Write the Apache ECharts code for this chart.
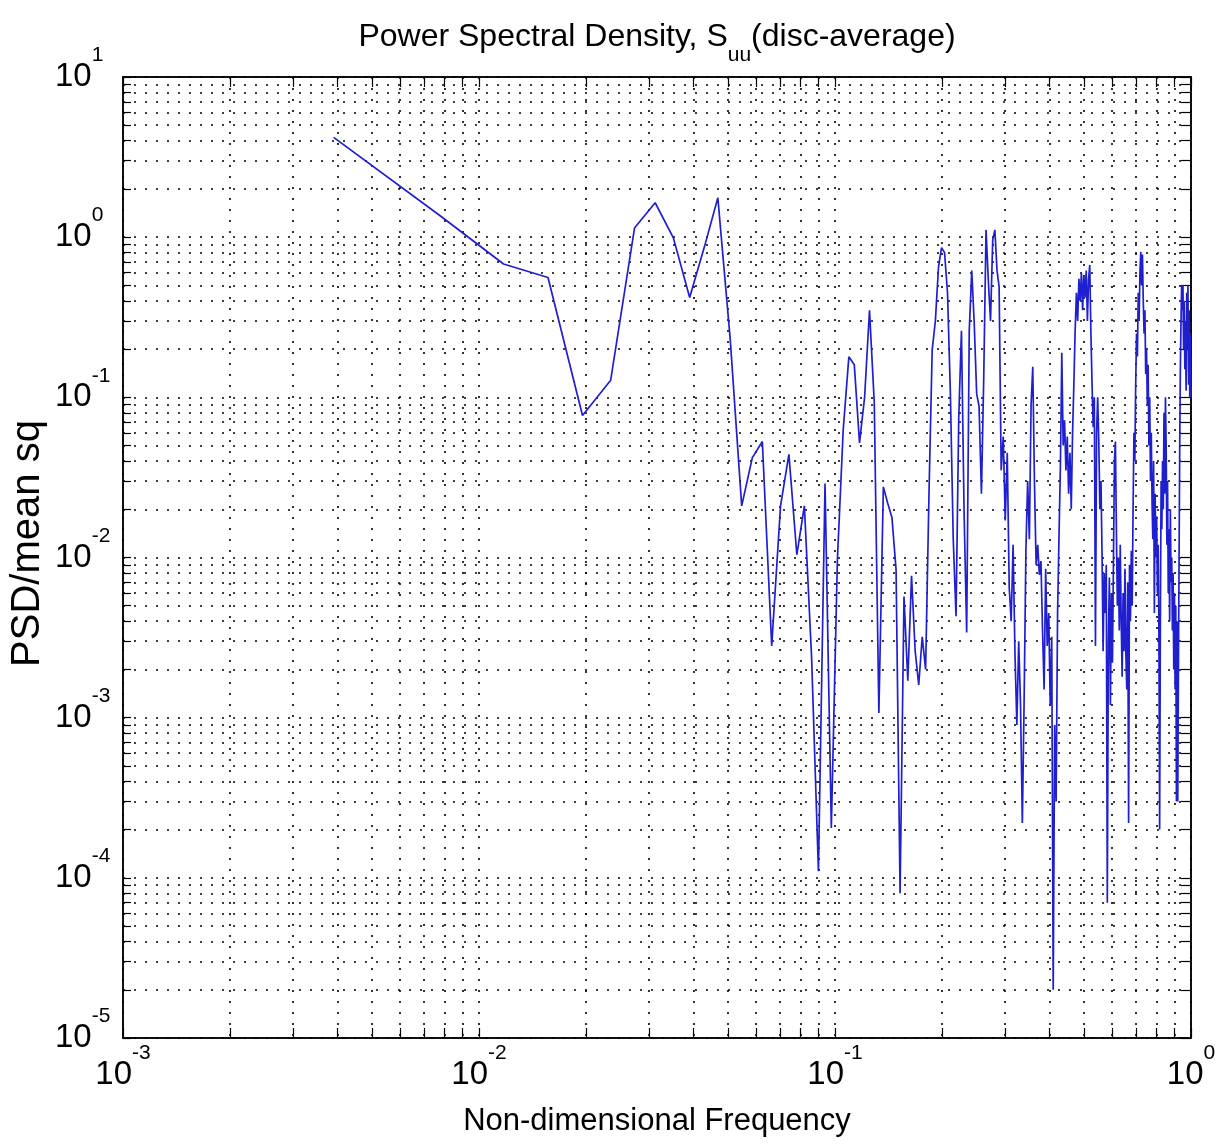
<!DOCTYPE html>
<html>
<head>
<meta charset="utf-8">
<script src="https://cdn.jsdelivr.net/npm/echarts@6/dist/echarts.min.js"></script>
<style>
  html, body { margin: 0; padding: 0; background: #fff; }
  #chart { width: 1215px; height: 1146px; }
</style>
</head>
<body>
<div id="chart"></div>
<script>
// PSD/mean sq, one value per frequency bin k = 1..256 (bin width 1/256)
var psd = [
  4.2, 1.35, 0.68, 0.56, 0.077, 0.128, 1.14, 1.64, 0.99, 0.42,
  0.87, 1.76, 0.23, 0.021, 0.042, 0.053, 0.0028, 0.021, 0.044, 0.0104,
  0.021, 0.0024, 0.00011, 0.029, 0.000205, 0.0097, 0.063, 0.179, 0.16, 0.052,
  0.1, 0.35, 0.093, 0.00107, 0.0276, 0.0218, 0.0178, 0.0084, 0.00008, 0.0057,
  0.0017, 0.0077, 0.0026, 0.0016, 0.0032, 0.002, 0.024, 0.198, 0.3, 0.65,
  0.86, 0.8, 0.45, 0.105, 0.0131, 0.0043, 0.075, 0.26, 0.019, 0.0034,
  0.26, 0.62, 0.29, 0.105, 0.088, 0.025, 0.134, 1.11, 0.54, 0.3,
  0.96, 1.11, 0.62, 0.49, 0.035, 0.057, 0.017, 0.045, 0.0065, 0.004,
  0.012, 0.0025, 0.0009, 0.003, 0.0012, 0.00022, 0.0013, 0.011, 0.03, 0.013,
  0.09, 0.155, 0.03, 0.009, 0.012, 0.0078, 0.0095, 0.0035, 0.0015, 0.0085,
  0.0028, 0.0045, 0.0012, 0.0032, 0.00002, 0.0009, 0.0003, 0.0045, 0.0134, 0.037,
  0.19, 0.05, 0.072, 0.035, 0.057, 0.025, 0.045, 0.02, 0.06, 0.12,
  0.26, 0.45, 0.3, 0.55, 0.4, 0.6, 0.35, 0.58, 0.42, 0.62,
  0.3, 0.55, 0.67, 0.25, 0.12, 0.065, 0.1, 0.0028, 0.06, 0.1,
  0.053, 0.02, 0.03, 0.0105, 0.0026, 0.008, 0.0045, 0.009, 0.00007, 0.003,
  0.0075, 0.0012, 0.006, 0.0022, 0.009, 0.04, 0.053, 0.015, 0.005, 0.01,
  0.0035, 0.012, 0.004, 0.0018, 0.006, 0.0026, 0.0085, 0.0025, 0.0015, 0.007,
  0.00022, 0.009, 0.004, 0.011, 0.005, 0.02, 0.06, 0.04, 0.12, 0.25,
  0.18, 0.45, 0.3, 0.6, 0.81, 0.5, 0.78, 0.4, 0.25, 0.35,
  0.14, 0.2, 0.09, 0.16, 0.05, 0.1, 0.03, 0.06, 0.022, 0.013,
  0.04, 0.0045, 0.025, 0.01, 0.018, 0.006, 0.012, 0.0035, 0.0002, 0.004,
  0.03, 0.015, 0.04, 0.02, 0.08, 0.025, 0.1, 0.05, 0.012, 0.03,
  0.006, 0.015, 0.004, 0.02, 0.007, 0.01, 0.0035, 0.008, 0.002, 0.006,
  0.0015, 0.005, 0.0003, 0.004, 0.0003, 0.002, 0.01, 0.05, 0.15, 0.3,
  0.5, 0.35, 0.5, 0.2, 0.4, 0.15, 0.3, 0.11, 0.45, 0.2,
  0.5, 0.12, 0.35, 0.1, 0.25, 0.1
];
var freq = psd.map(function (v, i) { return (i + 1) / 256; });

// tick positions (1..9 x each decade)
var xDecades = [0.001, 0.01, 0.1];
var yDecades = [1e-5, 1e-4, 1e-3, 1e-2, 1e-1, 1];
var mult = [1, 2, 3, 4, 5, 6, 7, 8, 9];
function minorTicks(decades, top) {
  var out = [];
  decades.forEach(function (d) {
    mult.forEach(function (m) { out.push(+(d * m).toPrecision(3)); });
  });
  out.push(top);
  return out;
}
var xTicks = minorTicks(xDecades, 1);
var yTicks = minorTicks(yDecades, 10);

var F = 'Liberation Sans, Arial, sans-serif';
var labelRich = {
  b: { fontSize: 33, fontFamily: F, color: '#000' },
  e: { fontSize: 21, fontFamily: F, color: '#000', padding: [0, 0, 43, 0] }
};
function pow10Label(v) {
  return '{b|10}{e|' + Math.round(Math.log10(v)) + '}';
}

var tickStyle = { color: '#000', width: 1.2 };
var lineStyle = { color: '#000', width: 1.5 };
var gridDots = { color: '#000', width: 1.6, type: [2, 9] };

var chart = echarts.init(document.getElementById('chart'));
chart.setOption({
  animation: false,
  backgroundColor: '#fff',
  title: {
    text: '{a|Power Spectral Density, S}{s|uu}{a|(disc-average)}',
    left: 652, top: 4, textAlign: 'center',
    textStyle: {
      fontWeight: 'normal',
      rich: {
        a: { fontSize: 32, fontFamily: F, fontWeight: 'normal', color: '#000' },
        s: { fontSize: 21, fontFamily: F, fontWeight: 'normal', color: '#000', padding: [36, 0, 0, 0] }
      }
    }
  },
  grid: {
    left: 123, right: 24, top: 77, bottom: 108,
    show: true, borderColor: '#000', borderWidth: 1.5,
    outerBoundsMode: 'none'
  },
  xAxis: [{
    type: 'log', logBase: 10, min: 0.001, max: 1, position: 'bottom',
    axisLine: { show: true, onZero: false, lineStyle: lineStyle },
    axisTick: { show: true, inside: true, length: 10, customValues: xTicks, lineStyle: tickStyle },
    axisLabel: { formatter: pow10Label, margin: 5, rich: labelRich },
    splitLine: { show: true, lineStyle: gridDots },
    name: 'Non-dimensional Frequency', nameLocation: 'middle', nameGap: 68,
    nameMoveOverlap: false,
    nameTextStyle: { fontSize: 31, fontFamily: F, color: '#000' }
  }, {
    type: 'log', logBase: 10, min: 0.001, max: 1, position: 'top',
    axisLine: { show: true, onZero: false, lineStyle: lineStyle },
    axisTick: { show: true, inside: true, length: 10, customValues: xTicks, lineStyle: tickStyle },
    axisLabel: { show: false },
    splitLine: { show: false }
  }],
  yAxis: [{
    type: 'log', logBase: 10, min: 1e-5, max: 10, position: 'left',
    axisLine: { show: true, onZero: false, lineStyle: lineStyle },
    axisTick: { show: true, inside: true, length: 8, customValues: yTicks, lineStyle: tickStyle },
    axisLabel: { formatter: pow10Label, margin: 68, align: 'left', rich: labelRich },
    splitLine: { show: true, lineStyle: gridDots },
    name: 'PSD/mean sq', nameLocation: 'middle', nameGap: 75, nameRotate: 90,
    nameMoveOverlap: false,
    nameTextStyle: { fontSize: 40, fontFamily: F, color: '#000', padding: [0, 0, 0, 28] }
  }, {
    type: 'log', logBase: 10, min: 1e-5, max: 10, position: 'right',
    axisLine: { show: true, onZero: false, lineStyle: lineStyle },
    axisTick: { show: true, inside: true, length: 10, customValues: yTicks, lineStyle: tickStyle },
    axisLabel: { show: false },
    splitLine: { show: false }
  }],
  series: [{
    type: 'line',
    data: freq.map(function (f, i) { return [f, psd[i]]; }),
    showSymbol: false,
    symbol: 'none',
    clip: true,
    lineStyle: { color: '#1f1fd0', width: 1.7 }
  }]
});
</script>
</body>
</html>
